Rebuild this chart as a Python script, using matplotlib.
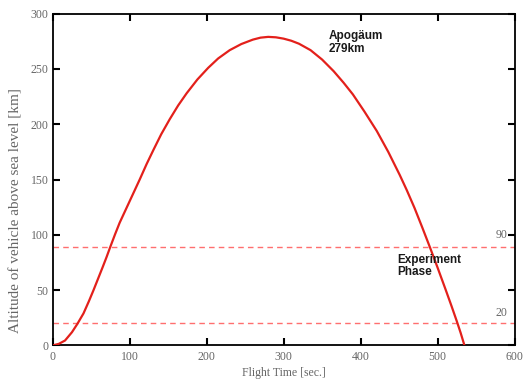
import matplotlib.pyplot as plt

# flight profile
flight_time = [0, 8, 16, 25, 32, 40, 47, 53, 59, 65, 70, 75, 81, 87, 94, 100, 107, 113,
               122, 131, 141, 152, 163, 174, 188, 202, 215, 230, 245, 260, 270, 280,
               290, 300, 310, 320, 335, 350, 365, 378, 390, 405, 421, 436, 451, 460,
               470, 480, 490, 500, 510, 518, 525, 530, 535]
altitude = [0, 1.5, 4.5, 12, 19.5, 29, 40, 50, 60.5, 71, 80, 89.5, 100.5, 111, 121.5, 130.5,
            141, 150, 164, 177, 191, 204.5, 217, 228, 240.5, 251, 259.5, 267,
            272.5, 276.5, 278.3, 279, 278.6, 277.4, 275.5, 272.8, 267, 258.5, 248,
            237.5, 227, 211.5, 194, 175, 154, 140.5, 124.5, 107, 89, 70.5, 51.5, 36,
            22, 11.5, 0]

phase_levels = [89, 20]
phase_labels = ['90', '20']
phase_label_y = [100, 29]

x_ticks = [0, 100, 200, 300, 400, 500, 600]
y_ticks = [0, 50, 100, 150, 200, 250, 300]

serif = ['Liberation Serif', 'DejaVu Serif']
sans = ['Liberation Sans', 'DejaVu Sans']
grey = '#666666'

fig = plt.figure(figsize=(5.25, 3.79), dpi=100)
ax = fig.add_axes([0.1004, 0.0884, 0.8796, 0.8756])

ax.plot(flight_time, altitude, color='#e3201b', linewidth=1.6, zorder=3,
        solid_joinstyle='round')

for lvl, lab, ly in zip(phase_levels, phase_labels, phase_label_y):
    ax.axhline(lvl, color='#ff6f6f', linestyle=(0, (4, 3)), linewidth=1.0)
    ax.text(583, ly, lab, ha='center', va='center', fontsize=8.5,
            color=grey, family=serif)

ax.text(358, 274, 'Apogäum\n279km', fontsize=8.5, fontweight='bold',
        family=sans, color='#1a1a1a', va='center', linespacing=1.05)
ax.text(448, 72, 'Experiment\nPhase', fontsize=8.5, fontweight='bold',
        family=sans, color='#1a1a1a', va='center', linespacing=1.05)

ax.set_xlim(0, 600)
ax.set_ylim(0, 300)
ax.set_xticks(x_ticks)
ax.set_yticks(y_ticks)
ax.tick_params(direction='in', length=5, width=1.5, top=True, right=True,
               labelsize=8.5, labelcolor=grey, pad=4)
ax.tick_params(axis='y', pad=3)
for lab in ax.get_xticklabels() + ax.get_yticklabels():
    lab.set_family(serif)
for sp in ax.spines.values():
    sp.set_linewidth(1.3)

ax.set_xlabel('Flight Time [sec.]', fontsize=8.5, color=grey, family=serif, labelpad=3)
ax.set_ylabel('Altitude of vehicle above sea level [km]', fontsize=11, color=grey,
              family=serif)
ax.yaxis.set_label_coords(-0.066, 0.408)

fig.savefig('out.png', dpi=100)
